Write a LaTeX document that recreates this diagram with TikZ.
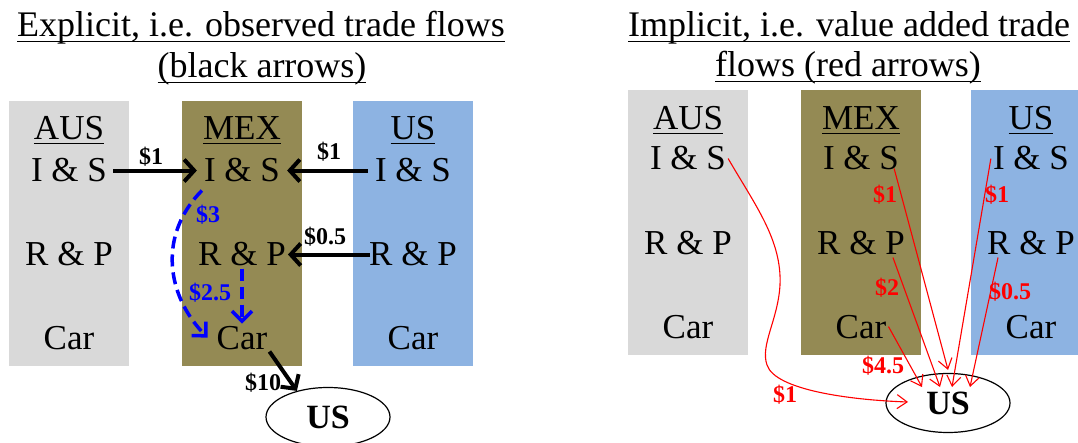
\documentclass[tikz,border=0pt]{standalone}
\usepackage{fontspec}
\setmainfont{Liberation Serif}
\usetikzlibrary{arrows.meta,shapes.geometric}
\definecolor{ausgray}{HTML}{D9D9D9}
\definecolor{mexolive}{HTML}{948A54}
\definecolor{usblue}{HTML}{8DB3E2}
\newcommand\myul[2]{\leavevmode\setbox0=\hbox{#2}\rlap{\rule[-#1]{\wd0}{1.5pt}}\box0}
\begin{document}
\begin{tikzpicture}[x=1pt,y=-1pt,
  boxtxt/.style={font=\fontsize{35}{40}\selectfont, anchor=base, inner sep=2pt},
  ttl/.style={font=\fontsize{36}{42}\selectfont, anchor=base, inner sep=0pt},
  amt/.style={font=\fontsize{24}{28}\selectfont\bfseries, inner sep=0pt},
  usell/.style={ellipse, draw, line width=1.2pt, minimum width=124pt, minimum height=59pt, inner sep=0pt, font=\fontsize{34}{40}\selectfont\bfseries},
  blk/.style={line width=4pt, -{Straight Barb[length=10pt,width=22pt]}},
  blu/.style={blue, line width=3.5pt, dash pattern=on 12pt off 6pt, -{Straight Barb[length=10pt,width=20pt]}},
  redarr/.style={red, line width=1.1pt, -{Straight Barb[length=10pt,width=14pt]}},
]
\useasboundingbox (0,0) rectangle (1078,443);

% ---------- left panel ----------
\node[ttl] (lt1) at (261,37) {\myul{5.5pt}{Explicit, i.e. observed trade flows}};
\node[ttl] (lt2) at (262,78) {\myul{5.5pt}{(black arrows)}};

\fill[ausgray] (9,101) rectangle (129,366);
\fill[mexolive] (182,101) rectangle (302,366);
\fill[usblue] (353,101) rectangle (473,366);

\node[boxtxt] (la_lab) at (69,140) {\myul{4.5pt}{AUS}};
\node[boxtxt] (lm_lab) at (242,140) {\myul{4.5pt}{MEX}};
\node[boxtxt] (lu_lab) at (413,140) {\myul{4.5pt}{US}};
\node[boxtxt] (la_is) at (69,182) {I \& S};
\node[boxtxt] (lm_is) at (242,182) {I \& S};
\node[boxtxt] (lu_is) at (413,182) {I \& S};
\node[boxtxt] (la_rp) at (69,266) {R \& P};
\node[boxtxt] (lm_rp) at (242,266) {R \& P};
\node[boxtxt] (lu_rp) at (413,266) {R \& P};
\node[boxtxt] (la_car) at (69,349) {Car};
\node[boxtxt] (lm_car) at (242,349) {Car};
\node[boxtxt] (lu_car) at (413,349) {Car};

\node[usell] (lus) at (328,417) {US};

\draw[blk] ([xshift=4pt]la_is.east) -- ([xshift=-5pt]lm_is.west);
\draw[blk] ([xshift=-5pt]lu_is.west) -- ([xshift=5pt]lm_is.east);
\draw[blk] ([xshift=3pt]lu_rp.west) -- (lm_rp.east);
\draw[blk] (lm_car.south east) -- (lus.140);

\node[amt] (a1) at (151,157) {\$1};
\node[amt] (a2) at (329,152) {\$1};
\node[amt] (a3) at (325,237) {\$0.5};
\node[amt] (a4) at (263,383) {\$10};

\draw[blu] ([shift={(0pt,-6pt)}]lm_is.south west) .. controls (158,235) and (166,295) .. ([xshift=-7pt]lm_car.west);
\draw[blu] (lm_rp.south) -- (lm_car.north);
\node[amt, blue] (b1) at (208,215) {\$3};
\node[amt, blue] (b2) at (210,293) {\$2.5};

% ---------- right panel ----------
\node[ttl] (rt1) at (849,37) {\myul{5.5pt}{Implicit, i.e. value added trade}};
\node[ttl] (rt2) at (848,77) {\myul{5.5pt}{flows (red arrows)}};

\fill[ausgray] (628,90) rectangle (748,355);
\fill[mexolive] (801,90) rectangle (921,355);
\fill[usblue] (971,90) rectangle (1091,355);

\node[boxtxt] (ra_lab) at (688,130) {\myul{4.5pt}{AUS}};
\node[boxtxt] (rm_lab) at (861,130) {\myul{4.5pt}{MEX}};
\node[boxtxt] (ru_lab) at (1031,130) {\myul{4.5pt}{US}};
\node[boxtxt] (ra_is) at (688,170) {I \& S};
\node[boxtxt] (rm_is) at (861,170) {I \& S};
\node[boxtxt] (ru_is) at (1031,170) {I \& S};
\node[boxtxt] (ra_rp) at (688,255) {R \& P};
\node[boxtxt] (rm_rp) at (861,255) {R \& P};
\node[boxtxt] (ru_rp) at (1031,255) {R \& P};
\node[boxtxt] (ra_car) at (688,338) {Car};
\node[boxtxt] (rm_car) at (861,338) {Car};
\node[boxtxt] (ru_car) at (1031,338) {Car};

\node[usell] (rus) at (948,403) {US};

\draw[redarr] (ra_is.east) .. controls (755,205) and (782,240) .. (780,285)
   .. controls (778,320) and (760,345) .. (767,365)
   .. controls (775,390) and (850,400) .. ([shift={(-40pt,1pt)}]rus.center);
\draw[redarr] ([shift={(-7pt,4pt)}]rm_is.south east) -- ([yshift=3pt]rus.north);
\draw[redarr] ([xshift=-14pt]rm_rp.south east) -- ([shift={(-8pt,16pt)}]rus.center);
\draw[redarr] (rm_car.east) -- ([shift={(-26pt,16pt)}]rus.center);
\draw[redarr] (ru_is.west) -- ([shift={(4pt,16pt)}]rus.center);
\draw[redarr] ([xshift=13pt]ru_rp.south west) -- ([shift={(22pt,16pt)}]rus.center);

\node[amt, red] (r1) at (885,195) {\$1};
\node[amt, red] (r2) at (887,288) {\$2};
\node[amt, red] (r3) at (883,366) {\$4.5};
\node[amt, red] (r4) at (997,195) {\$1};
\node[amt, red] (r5) at (1010,292) {\$0.5};
\node[amt, red] (r6) at (785,395) {\$1};
\end{tikzpicture}
\end{document}
